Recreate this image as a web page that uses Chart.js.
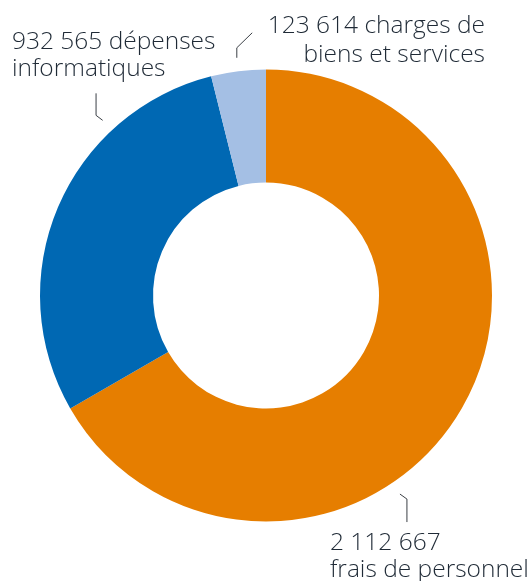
<!DOCTYPE html>
<html>
<head>
<meta charset="utf-8">
<script src="https://cdn.jsdelivr.net/npm/chart.js@4/dist/chart.umd.min.js"></script>
<style>
  html, body { margin: 0; padding: 0; background: #ffffff; }
  #wrap { width: 532px; height: 581px; position: relative; }
</style>
</head>
<body>
<div id="wrap"><canvas id="c" width="532" height="581"></canvas></div>
<script>
// ---- data ----
const categories = ["frais de personnel", "dépenses informatiques", "charges de biens et services"];
const values = [2112667, 932565, 123614];
const valueLabels = ["2 112 667", "932 565", "123 614"];
const labelLines = [
  ["2 112 667", "frais de personnel"],
  ["932 565 dépenses", "informatiques"],
  ["123 614 charges de", "biens et services"]
];

// ---- styles / layout ----
const colors = ["#E67E00", "#0068B3", "#A4BFE4"];
const textColor = "#1f2a36";
const FONT = "300 24.5px 'Open Sans', 'Noto Sans', sans-serif";

const labelLayout = [
  { angle: 146, gap: 13.5, path: [[7, 5], [7, 28]], x: 330, align: "left", baselines: [550, 577] },
  { angle: 317, gap: 13.5, path: [[-6.6, -5], [-6.6, -27]], x: 12, align: "left", baselines: [49, 76] },
  { angle: 353, gap: 13.5, path: [[0, -10], [15.4, -25]], x: 485, align: "right", baselines: [33, 61.5] }
];

const labelPlugin = {
  id: "leaderLabels",
  afterDatasetsDraw(chart) {
    const ctx = chart.ctx;
    const meta = chart.getDatasetMeta(0);
    ctx.save();
    meta.data.forEach((arc, i) => {
      const L = labelLayout[i];
      const a = L.angle * Math.PI / 180;
      const r = arc.outerRadius + L.gap;
      const sx = arc.x + Math.sin(a) * r;
      const sy = arc.y - Math.cos(a) * r;
      ctx.beginPath();
      ctx.moveTo(sx, sy);
      L.path.forEach(p => ctx.lineTo(sx + p[0], sy + p[1]));
      ctx.strokeStyle = "#3a3f45";
      ctx.lineWidth = 1;
      ctx.stroke();
      ctx.font = FONT;
      ctx.fillStyle = textColor;
      ctx.textAlign = L.align;
      ctx.textBaseline = "alphabetic";
      labelLines[i].forEach((t, k) => ctx.fillText(t, L.x, L.baselines[k]));
    });
    ctx.restore();
  }
};

new Chart(document.getElementById("c"), {
  type: "doughnut",
  data: {
    labels: categories,
    datasets: [{
      data: values,
      backgroundColor: colors,
      borderWidth: 0,
      hoverOffset: 0
    }]
  },
  options: {
    responsive: false,
    animation: false,
    devicePixelRatio: 1,
    cutout: "50%",
    rotation: 0,
    layout: { padding: { left: 40, right: 40, top: 69.5, bottom: 59.5 } },
    plugins: {
      legend: { display: false },
      tooltip: { enabled: false },
      title: { display: false }
    }
  },
  plugins: [labelPlugin]
});
</script>
</body>
</html>
